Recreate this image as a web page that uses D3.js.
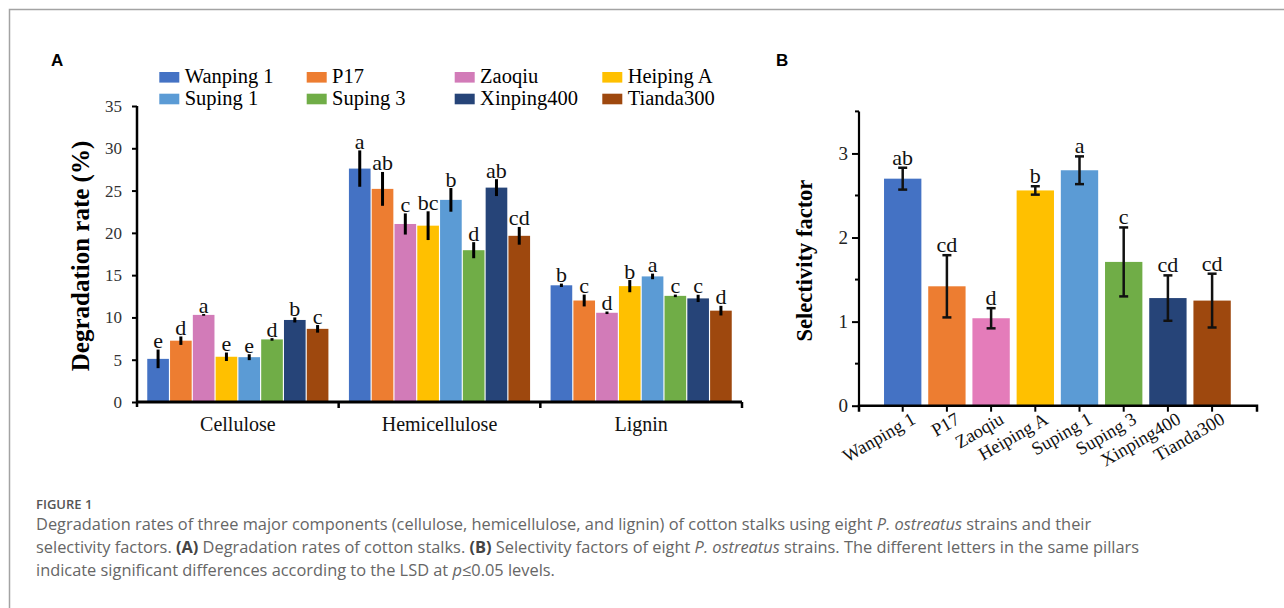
<!DOCTYPE html>
<html>
<head>
<meta charset="utf-8">
<script src="https://cdn.jsdelivr.net/npm/d3@7"></script>
<style>
  html, body { margin: 0; padding: 0; background: #fff; }
  svg { display: block; }
</style>
</head>
<body>
<svg id="fig" width="1284" height="608"></svg>
<script>
// Strains and component categories
const strains = ["Wanping 1", "P17", "Zaoqiu", "Heiping A", "Suping 1", "Suping 3", "Xinping400", "Tianda300"];
const components = ["Cellulose", "Hemicellulose", "Lignin"];
const strainColors = ["#4472C4", "#ED7D31", "#D27BB8", "#FFC000", "#5B9BD5", "#70AD47", "#264478", "#9E480E"];
const strainColorsB = ["#4472C4", "#ED7D31", "#E47CBA", "#FFC000", "#5B9BD5", "#70AD47", "#264478", "#9E480E"];

// Degradation rate (%) per component, one value per strain
const cellulose = [5.1, 7.25, 10.3, 5.35, 5.3, 7.4, 9.7, 8.65];
const celluloseErr = [1.1, 0.5, 0.1, 0.5, 0.35, 0.15, 0.3, 0.45];
const celluloseSig = ["e", "d", "a", "e", "e", "d", "b", "c"];

const hemicellulose = [27.6, 25.2, 21.05, 20.85, 23.9, 17.95, 25.35, 19.65];
const hemicelluloseErr = [2.15, 2.0, 1.25, 1.7, 1.4, 0.95, 1.0, 1.05];
const hemicelluloseSig = ["a", "ab", "c", "bc", "b", "d", "ab", "cd"];

const lignin = [13.8, 12.0, 10.55, 13.7, 14.85, 12.55, 12.25, 10.8];
const ligninErr = [0.2, 0.7, 0.15, 0.72, 0.33, 0.15, 0.43, 0.57];
const ligninSig = ["b", "c", "d", "b", "a", "c", "c", "d"];

// Selectivity factor per strain
const selectivity = [2.70, 1.42, 1.04, 2.56, 2.80, 1.71, 1.28, 1.25];
const selectivityErr = [0.13, 0.37, 0.12, 0.05, 0.165, 0.41, 0.27, 0.32];
const selectivitySig = ["ab", "cd", "d", "b", "a", "c", "cd", "cd"];

// Axis ticks
const ticksA = [0, 5, 10, 15, 20, 25, 30, 35];
const ticksB = [0, 1, 2, 3];
const minorTicksB = [0.5, 1.5, 2.5, 3.5];

const componentData = [
  { name: "Cellulose", values: cellulose, err: celluloseErr, sig: celluloseSig },
  { name: "Hemicellulose", values: hemicellulose, err: hemicelluloseErr, sig: hemicelluloseSig },
  { name: "Lignin", values: lignin, err: ligninErr, sig: ligninSig }
];

const svg = d3.select("#fig");
const serif = "'Liberation Serif', 'Times New Roman', serif";
const sans = "'Liberation Sans', Arial, sans-serif";

// Outer frame of the figure
svg.append("path")
  .attr("d", "M9.5,608 V9.5 H1284")
  .attr("fill", "none").attr("stroke", "#a3a3a3").attr("stroke-width", 1.5);

// ---------- Panel A: degradation rates ----------
const gA = svg.append("g");
const x0 = d3.scaleBand().domain(components).range([137, 742]);
const x1 = d3.scaleBand().domain(strains).range([0, x0.bandwidth()])
  .paddingInner(0.05).paddingOuter(0.45);
const yA = d3.scaleLinear().domain([0, 35]).range([402, 106]);

gA.append("text").attr("x", 51).attr("y", 66)
  .attr("font-family", sans).attr("font-weight", "bold").attr("font-size", 17)
  .text("A");

const groups = gA.selectAll("g.comp").data(componentData).join("g")
  .attr("class", "comp")
  .attr("transform", d => `translate(${x0(d.name)},0)`);

groups.each(function (d) {
  const g = d3.select(this);
  const rows = strains.map((s, i) => ({ s, i, v: d.values[i], e: d.err[i], l: d.sig[i] }));
  g.selectAll("rect").data(rows).join("rect")
    .attr("x", r => x1(r.s))
    .attr("y", r => yA(r.v))
    .attr("width", x1.bandwidth())
    .attr("height", r => yA(0) - yA(r.v))
    .attr("fill", r => strainColors[r.i]);
  g.selectAll("line.err").data(rows).join("line")
    .attr("class", "err")
    .attr("x1", r => x1(r.s) + x1.bandwidth() / 2)
    .attr("x2", r => x1(r.s) + x1.bandwidth() / 2)
    .attr("y1", r => yA(r.v + r.e))
    .attr("y2", r => yA(r.v - r.e))
    .attr("stroke", "#000").attr("stroke-width", 3);
  g.selectAll("text.sig").data(rows).join("text")
    .attr("class", "sig")
    .attr("x", r => x1(r.s) + x1.bandwidth() / 2)
    .attr("y", r => yA(r.v + r.e) - 1.5)
    .attr("text-anchor", "middle")
    .attr("font-family", serif).attr("font-size", 22).attr("fill", "#111")
    .text(r => r.l);
});

// Y axis of panel A
const yAxisA = d3.axisLeft(yA).tickValues(ticksA).tickSize(5).tickSizeOuter(0).tickPadding(10);
const gyA = gA.append("g").attr("transform", "translate(137,0)").call(yAxisA);
gyA.select(".domain").attr("stroke-width", 2.5).attr("d", `M0,${yA(35)}V${yA(0) + 5}`);
gyA.selectAll(".tick line").attr("stroke-width", 2);
gyA.selectAll(".tick text").attr("font-family", serif).attr("font-size", 17).attr("fill", "#333");

// X axis of panel A: category boundaries as ticks
const gxA = gA.append("g");
gxA.append("line").attr("x1", 136).attr("x2", 742).attr("y1", yA(0)).attr("y2", yA(0))
  .attr("stroke", "#000").attr("stroke-width", 3);
const bounds = components.map(c => x0(c)).concat([x0.range()[1]]).slice(1);
gxA.selectAll("line.b").data(bounds).join("line").attr("class", "b")
  .attr("x1", d => d).attr("x2", d => d)
  .attr("y1", yA(0)).attr("y2", yA(0) + 6)
  .attr("stroke", "#000").attr("stroke-width", 2.5);
gxA.selectAll("text").data(components).join("text")
  .attr("x", d => x0(d) + x0.bandwidth() / 2)
  .attr("y", 431)
  .attr("text-anchor", "middle")
  .attr("font-family", serif).attr("font-size", 20).attr("fill", "#111")
  .text(d => d);

gA.append("text")
  .attr("transform", `translate(89,${(yA(0) + yA(35)) / 2 + 2}) rotate(-90)`)
  .attr("text-anchor", "middle")
  .attr("font-family", serif).attr("font-weight", "bold").attr("font-size", 25)
  .text("Degradation rate (%)");

// Legend, two rows of four strains
const legendCols = [159.3, 306.7, 454.7, 602.3];
const legendRows = [77.3, 99];
const leg = gA.selectAll("g.leg").data(strains).join("g").attr("class", "leg")
  .attr("transform", (d, i) => `translate(${legendCols[i % 4]},${legendRows[Math.floor(i / 4)]})`);
leg.append("rect").attr("x", 0).attr("y", -5.3).attr("width", 20).attr("height", 10.6)
  .attr("fill", (d, i) => strainColors[i]);
leg.append("text").attr("x", 25.4).attr("y", 5.6)
  .attr("font-family", serif).attr("font-size", 20.5).attr("fill", "#000")
  .text(d => d);

// ---------- Panel B: selectivity factor ----------
const gB = svg.append("g");
const xB = d3.scaleBand().domain(strains).range([880.6, 1234.2])
  .paddingInner(0.155).paddingOuter(0.0775);
const yB = d3.scaleLinear().domain([0, 3.5]).range([405.7, 111.4]);

gB.append("text").attr("x", 776).attr("y", 66)
  .attr("font-family", sans).attr("font-weight", "bold").attr("font-size", 17)
  .text("B");

const rowsB = strains.map((s, i) => ({ s, i, v: selectivity[i], e: selectivityErr[i], l: selectivitySig[i] }));
gB.selectAll("rect").data(rowsB).join("rect")
  .attr("x", r => xB(r.s)).attr("y", r => yB(r.v))
  .attr("width", xB.bandwidth()).attr("height", r => yB(0) - yB(r.v))
  .attr("fill", r => strainColorsB[r.i]);

const errB = gB.selectAll("g.err").data(rowsB).join("g").attr("class", "err")
  .attr("transform", r => `translate(${xB(r.s) + xB.bandwidth() / 2},0)`);
errB.append("line").attr("y1", r => yB(r.v + r.e)).attr("y2", r => yB(r.v - r.e))
  .attr("stroke", "#111").attr("stroke-width", 2.5);
errB.append("line").attr("x1", -4.5).attr("x2", 4.5)
  .attr("y1", r => yB(r.v + r.e)).attr("y2", r => yB(r.v + r.e))
  .attr("stroke", "#111").attr("stroke-width", 2.5);
errB.append("line").attr("x1", -4.5).attr("x2", 4.5)
  .attr("y1", r => yB(r.v - r.e)).attr("y2", r => yB(r.v - r.e))
  .attr("stroke", "#111").attr("stroke-width", 2.5);
errB.append("text").attr("y", r => yB(r.v + r.e) - 3)
  .attr("text-anchor", "middle")
  .attr("font-family", serif).attr("font-size", 22).attr("fill", "#111")
  .text(r => r.l);

// Y axis of panel B with minor half-unit ticks
const gyB = gB.append("g").attr("transform", "translate(859,0)")
  .call(d3.axisLeft(yB).tickValues(ticksB).tickFormat(d3.format("d"))
    .tickSize(7).tickSizeOuter(0).tickPadding(4));
gyB.select(".domain").attr("stroke-width", 2.2).attr("d", `M0,${yB(3.5)}V${yB(0)}`);
gyB.selectAll(".tick line").attr("stroke-width", 2);
gyB.selectAll(".tick text").attr("font-family", serif).attr("font-size", 19).attr("fill", "#222");
gyB.selectAll("line.minor").data(minorTicksB).join("line").attr("class", "minor")
  .attr("x1", -4).attr("x2", 0).attr("y1", d => yB(d)).attr("y2", d => yB(d))
  .attr("stroke", "#000").attr("stroke-width", 2);

// X axis of panel B
const gxB = gB.append("g").attr("transform", `translate(0,${yB(0)})`)
  .call(d3.axisBottom(xB).tickSize(6).tickSizeOuter(0).tickFormat(""));
gxB.select(".domain").attr("stroke-width", 2.5).attr("d", "M859,6V0H1257V6");
gxB.selectAll(".tick line").attr("stroke-width", 2);
gB.selectAll("text.xl").data(strains).join("text").attr("class", "xl")
  .attr("transform", d => `translate(${xB(d) + xB.bandwidth() / 2 + 14},${yB(0) + 17}) rotate(-30)`)
  .attr("text-anchor", "end")
  .attr("font-family", serif).attr("font-size", 18.5).attr("fill", "#111")
  .text(d => d);

gB.append("text")
  .attr("transform", `translate(812,${(yB(0) + yB(3.5)) / 2 + 2}) rotate(-90)`)
  .attr("text-anchor", "middle")
  .attr("font-family", serif).attr("font-weight", "bold").attr("font-size", 22.5)
  .text("Selectivity factor");

// ---------- Caption ----------
const cap = svg.append("g").attr("font-family", "'Open Sans', 'Noto Sans', sans-serif").attr("fill", "#666");
cap.append("text").attr("x", 36).attr("y", 509).attr("font-size", 13).attr("font-weight", 600)
  .attr("fill", "#555").text("FIGURE 1");

const captionLines = [
  [["Degradation rates of three major components (cellulose, hemicellulose, and lignin) of cotton stalks using eight ", ""], ["P. ostreatus", "i"], [" strains and their", ""]],
  [["selectivity factors. ", ""], ["(A)", "b"], [" Degradation rates of cotton stalks. ", ""], ["(B)", "b"], [" Selectivity factors of eight ", ""], ["P. ostreatus", "i"], [" strains. The different letters in the same pillars", ""]],
  [["indicate significant differences according to the LSD at ", ""], ["p", "i"], ["≤0.05 levels.", ""]]
];
const capTexts = cap.selectAll("text.cl").data(captionLines).join("text").attr("class", "cl")
  .attr("x", 36).attr("y", (d, i) => 530 + i * 23).attr("font-size", 16);
capTexts.each(function (line) {
  d3.select(this).selectAll("tspan").data(line).join("tspan")
    .attr("font-style", p => p[1] === "i" ? "italic" : null)
    .attr("font-weight", p => p[1] === "b" ? "bold" : null)
    .attr("fill", p => p[1] === "b" ? "#444" : null)
    .text(p => p[0]);
});
// Scale caption font so the first line spans its column width
const firstW = capTexts.nodes()[0].getComputedTextLength();
const capSize = 16 * (1056 / firstW);
capTexts.attr("font-size", capSize);
</script>
</body>
</html>
